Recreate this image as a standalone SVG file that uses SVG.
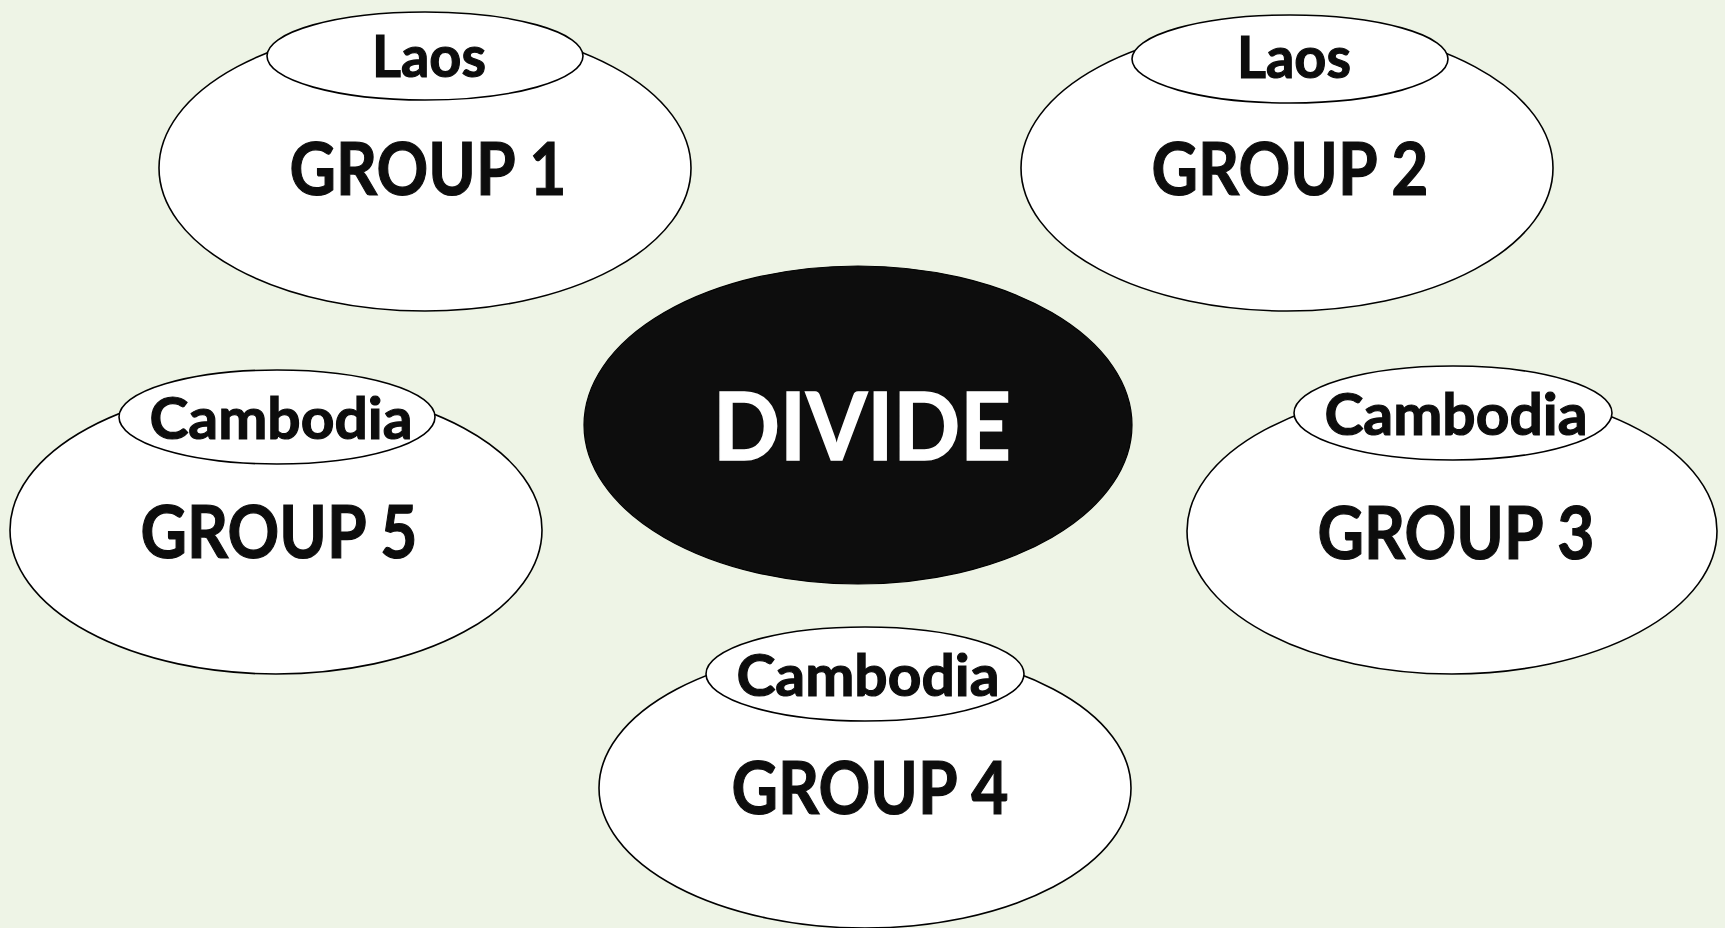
<svg xmlns="http://www.w3.org/2000/svg" width="1725" height="928" viewBox="0 0 1725 928">
  <style>
    .big { fill: #ffffff; stroke: #000000; stroke-width: 1.6; }
    .small { fill: #ffffff; stroke: #000000; stroke-width: 1.6; }
    .center { fill: #0d0d0d; stroke: #000000; stroke-width: 1.2; }
    .t { font-family: Lato, "Liberation Sans", sans-serif; font-weight: bold; fill: #0d0d0d; stroke: #0d0d0d; stroke-width: 1.2; text-anchor: middle; }
    .grp { font-size: 73px; }
    .lbl { font-size: 58px; }
    .div { font-size: 94px; fill: #ffffff; stroke: #ffffff; stroke-width: 1.5; }
  </style>
  <rect x="0" y="0" width="1725" height="928" fill="#eef4e6"/>
  <g id="connectors"/>
  <g id="group1">
    <ellipse class="big" cx="425" cy="168" rx="266" ry="143"/>
    <ellipse class="small" cx="425" cy="56" rx="158" ry="44"/>
    <text class="t lbl" x="429" y="77" textLength="114" lengthAdjust="spacingAndGlyphs">Laos</text>
    <text class="t grp" x="428" y="195" textLength="277" lengthAdjust="spacingAndGlyphs">GROUP 1</text>
  </g>
  <g id="group2">
    <ellipse class="big" cx="1287" cy="168" rx="266" ry="143"/>
    <ellipse class="small" cx="1290" cy="59" rx="158" ry="44"/>
    <text class="t lbl" x="1294" y="78" textLength="114" lengthAdjust="spacingAndGlyphs">Laos</text>
    <text class="t grp" x="1290" y="195" textLength="277" lengthAdjust="spacingAndGlyphs">GROUP 2</text>
  </g>
  <g id="divide">
    <ellipse class="center" cx="858" cy="425" rx="274" ry="159"/>
    <text class="t div" x="862" y="460" textLength="298" lengthAdjust="spacingAndGlyphs">DIVIDE</text>
  </g>
  <g id="group5">
    <ellipse class="big" cx="276" cy="530" rx="266" ry="144"/>
    <ellipse class="small" cx="277" cy="417" rx="158" ry="47"/>
    <text class="t lbl" x="281" y="439" textLength="263" lengthAdjust="spacingAndGlyphs">Cambodia</text>
    <text class="t grp" x="279" y="558" textLength="277" lengthAdjust="spacingAndGlyphs">GROUP 5</text>
  </g>
  <g id="group3">
    <ellipse class="big" cx="1452" cy="531" rx="265" ry="143"/>
    <ellipse class="small" cx="1453" cy="413" rx="159" ry="47"/>
    <text class="t lbl" x="1456" y="435" textLength="263" lengthAdjust="spacingAndGlyphs">Cambodia</text>
    <text class="t grp" x="1456" y="559" textLength="277" lengthAdjust="spacingAndGlyphs">GROUP 3</text>
  </g>
  <g id="group4">
    <ellipse class="big" cx="865" cy="788" rx="266" ry="140"/>
    <ellipse class="small" cx="865" cy="674" rx="159" ry="47"/>
    <text class="t lbl" x="868" y="696" textLength="263" lengthAdjust="spacingAndGlyphs">Cambodia</text>
    <text class="t grp" x="870" y="814" textLength="277" lengthAdjust="spacingAndGlyphs">GROUP 4</text>
  </g>
</svg>
